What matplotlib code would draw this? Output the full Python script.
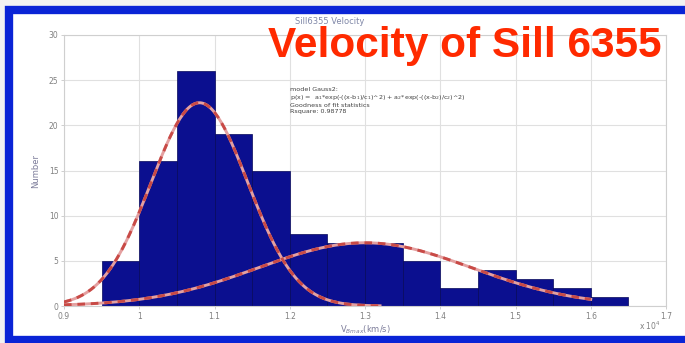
import numpy as np
import matplotlib
matplotlib.use("Agg")
import matplotlib.pyplot as plt
from matplotlib.patches import Rectangle

# Histogram data (bin edges in units of 1e4, counts)
bin_left = [0.95, 1.00, 1.05, 1.10, 1.15, 1.20, 1.25, 1.30, 1.35, 1.40, 1.45, 1.50, 1.55, 1.60]
counts   = [5,    16,   26,   19,   15,   8,    7,    7,    5,    2,    4,    3,    2,    1]
bin_width = 0.05

# Two-term Gaussian fit parameters: a*exp(-((x-b)/c)^2)
a1, b1, c1 = 22.5, 1.08, 0.091
a2, b2, c2 = 7.0, 1.30, 0.200

xticks = [0.9, 1.0, 1.1, 1.2, 1.3, 1.4, 1.5, 1.6, 1.7]
xtick_labels = ["0.9", "1", "1.1", "1.2", "1.3", "1.4", "1.5", "1.6", "1.7"]
yticks = [0, 5, 10, 15, 20, 25, 30]

fig = plt.figure(figsize=(6.85, 3.43), dpi=100)
fig.patch.set_facecolor("#f2f2f2")
W, H = 685, 343
frame = Rectangle((9 / W, 3 / H), (W + 10 - 9) / W, (H - 13) / H,
                  transform=fig.transFigure, facecolor="white",
                  edgecolor="#0a24d6", linewidth=6, zorder=-5)
fig.patches.append(frame)

ax = fig.add_axes([64 / W, 1 - 306 / H, 602 / W, 271 / H])
ax.set_zorder(2)
ax.set_facecolor("white")
ax.bar(bin_left, counts, width=bin_width, align="edge",
       color="#0b0f8f", edgecolor="#05075a", linewidth=0.5, zorder=2)

x1 = np.linspace(0.9, 1.32, 200)
x2 = np.linspace(0.9, 1.6, 300)
g1 = a1 * np.exp(-((x1 - b1) / c1) ** 2)
g2 = a2 * np.exp(-((x2 - b2) / c2) ** 2)
for xx, gg in ((x1, g1), (x2, g2)):
    ax.plot(xx, gg, color="#e4a0a0", lw=2.1, zorder=3)
    ax.plot(xx, gg, color="#c84a46", lw=2.1, ls=(0, (2.6, 2.0)), zorder=4)

ax.set_xlim(0.9, 1.7)
ax.set_ylim(0, 30)
ax.set_xticks(xticks)
ax.set_xticklabels(xtick_labels)
ax.set_yticks(yticks)
ax.grid(True, color="#e0e0e0", lw=0.8, zorder=0)
ax.set_axisbelow(True)
for s in ax.spines.values():
    s.set_color("#cfcfcf")
    s.set_linewidth(0.8)
ax.tick_params(colors="#c8c8c8", labelcolor="#808080", labelsize=5.5,
               length=2, width=0.6, pad=2)

ax.set_xlabel("V$_{Bmax}$(km/s)", fontsize=6, color="#7c7c9a", labelpad=2)
ax.set_ylabel("Number", fontsize=6, color="#7c7c9a", labelpad=6)
fig.text(650 / W, 1 - 326 / H, "x 10$^4$", fontsize=5.5, color="#808080",
         ha="center", va="center")

fig.text(330 / W, 1 - 22 / H, "Sill6355 Velocity", fontsize=6, color="#8088a8",
         ha="center", va="center", zorder=3)

fig.text(290 / W, 1 - 87 / H,
         "model Gauss2:\n"
         "p(x) =  a$_1$*exp(-((x-b$_1$)/c$_1$)^2) + a$_2$*exp(-((x-b$_2$)/c$_2$)^2)\n"
         "Goodness of fit statistics\n"
         "Rsquare: 0.98778",
         fontsize=4.6, color="#404040", ha="left", va="top", linespacing=1.2,
         zorder=5)

fig.text(465 / W, 1 - 46 / H, "Velocity of Sill 6355", fontsize=30.5,
         fontweight="bold", family="Liberation Sans", color="#ff2a00",
         ha="center", va="center", zorder=6)

fig.savefig("out.png", dpi=100, facecolor=fig.get_facecolor())
